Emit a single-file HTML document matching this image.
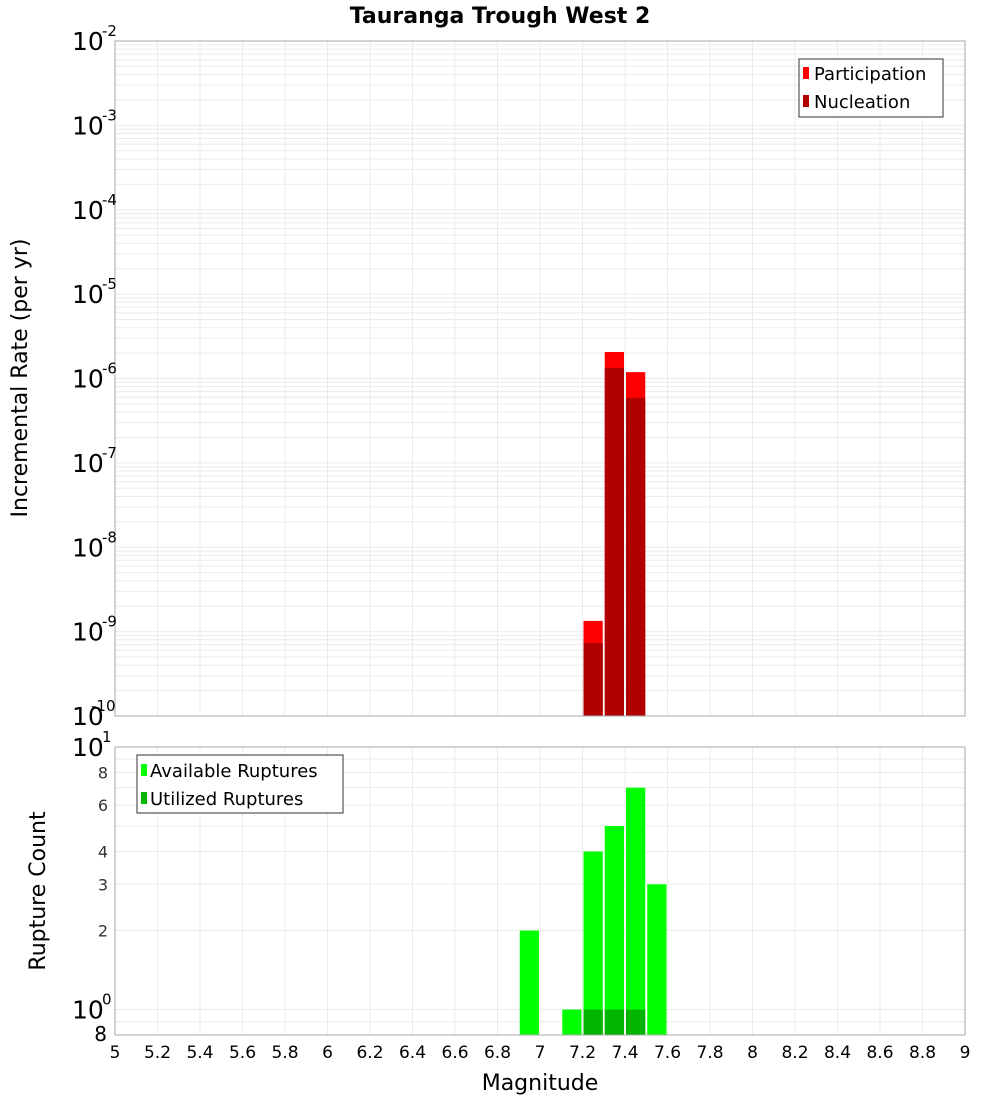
<!DOCTYPE html>
<html><head><meta charset="utf-8"><style>
body{margin:0;background:#fff;}
svg text{font-family:"DejaVu Sans","Liberation Sans",sans-serif;}
</style></head><body>
<svg id="c" width="1000" height="1100" xmlns="http://www.w3.org/2000/svg">
<text x="500" y="23" text-anchor="middle" font-size="22" font-weight="bold">Tauranga Trough West 2</text>
<g id="topg"></g><g id="botg"></g>
</svg>
<script>
const mags = [7.25, 7.35, 7.45];
const participation = [1.34e-9, 2.06e-6, 1.19e-6];
const nucleation = [7.3e-10, 1.33e-6, 5.9e-7];
const countMags = [6.95, 7.15, 7.25, 7.35, 7.45, 7.55];
const available = [2, 1, 4, 5, 7, 3];
const utilMags = [7.25, 7.35, 7.45];
const utilized = [1, 1, 1];
const xTicks = [5,5.2,5.4,5.6,5.8,6,6.2,6.4,6.6,6.8,7,7.2,7.4,7.6,7.8,8,8.2,8.4,8.6,8.8,9];
const topDecades = [-10,-9,-8,-7,-6,-5,-4,-3,-2];
const botTickVals = [0.8,1,2,3,4,6,8,10];

const NS="http://www.w3.org/2000/svg";
const X0=115,X1=965;
const x=m=>X0+(m-5)/4*(X1-X0);
const T0=41,T1=716;
const yTop=v=>T0+(-2-Math.log10(v))/8*(T1-T0);
const B0=747,B1=1035;
const yBot=v=>B0+(1-Math.log10(v))/(1-Math.log10(0.8))*(B1-B0);
function el(p,tag,a,txt){const e=document.createElementNS(NS,tag);for(const k in a)e.setAttribute(k,a[k]);if(txt!==undefined)e.textContent=txt;p.appendChild(e);return e;}
const topG=document.getElementById('topg'),botG=document.getElementById('botg');

for(const d of topDecades){for(let k=1;k<10;k++){const v=k*Math.pow(10,d);if(v>1e-2+1e-12)break;const yy=yTop(v);
const g=el(topG,'line',{x1:X0,x2:X1,y1:yy,y2:yy,stroke:'#ebebeb','stroke-width':1});

}}
for(const t of xTicks){for(const [p,a,b] of [[topG,T0,T1],[botG,B0,B1]]){const g=el(p,'line',{x1:x(t),x2:x(t),y1:a,y2:b,stroke:'#ebebeb','stroke-width':1});

}}
const bw=(x(5.1)-x(5))-2;
mags.forEach((m,i)=>{
const r=el(topG,'rect',{x:x(m)-bw/2,y:yTop(participation[i]),width:bw,height:T1-yTop(participation[i]),fill:'#ff0000'});


const n=el(topG,'rect',{x:x(m)-bw/2,y:yTop(nucleation[i]),width:bw,height:T1-yTop(nucleation[i]),fill:'#b00000'});

});
const tf=el(topG,'rect',{x:X0,y:T0,width:X1-X0,height:T1-T0,fill:'none',stroke:'#aaa'});


for(const d of topDecades){const yy=yTop(Math.pow(10,d));
const t=el(topG,'text',{x:72,y:yy+9,'font-size':25},'10');


const s=el(topG,'text',{x:(d<=-10?91:102),y:yy-5,'font-size':15},String(d));

}
const yt=el(topG,'text',{x:0,y:0,'font-size':22,'text-anchor':'middle',transform:'translate(27,378) rotate(-90)'},'Incremental Rate (per yr)');


const lg=el(topG,'g',{});


el(lg,'rect',{x:799,y:59,width:144,height:58,fill:'#fff',stroke:'#333'});
el(lg,'rect',{x:803,y:67,width:6,height:12,fill:'#ff0000'});
el(lg,'text',{x:814,y:80,'font-size':18},'Participation');
el(lg,'rect',{x:803,y:95,width:6,height:12,fill:'#b00000'});
el(lg,'text',{x:814,y:108,'font-size':18},'Nucleation');

for(const v of [0.8,0.9,1,2,3,4,5,6,7,8,9,10]){const yy=yBot(v);
const g=el(botG,'line',{x1:X0,x2:X1,y1:yy,y2:yy,stroke:'#ebebeb','stroke-width':1});

}
countMags.forEach((m,i)=>{
const r=el(botG,'rect',{x:x(m)-bw/2,y:yBot(available[i]),width:bw,height:B1-yBot(available[i]),fill:'#00ff00'});

});
utilMags.forEach((m,i)=>{
const r=el(botG,'rect',{x:x(m)-bw/2,y:yBot(utilized[i]),width:bw,height:B1-yBot(utilized[i]),fill:'#00b400'});

});
const bf=el(botG,'rect',{x:X0,y:B0,width:X1-X0,height:B1-B0,fill:'none',stroke:'#aaa'});


for(const v of botTickVals){const yy=yBot(v);
if(v===1||v===10){const t=el(botG,'text',{x:72,y:yy+9,'font-size':25},'10');


const s=el(botG,'text',{x:102,y:yy-5,'font-size':15},v===1?'0':'1');

}
else{const t=el(botG,'text',{x:v===0.8?107:108,y:yy+6,'font-size':v===0.8?20:16,'text-anchor':'end',fill:v===0.8?'#000':'#333'},v===0.8?'8':String(v));

}}
const yb=el(botG,'text',{x:0,y:0,'font-size':22,'text-anchor':'middle',transform:'translate(45,891) rotate(-90)'},'Rupture Count');


const lb=el(botG,'g',{});


el(lb,'rect',{x:137,y:755,width:206,height:58,fill:'#fff',stroke:'#333'});
el(lb,'rect',{x:141,y:764,width:6,height:12,fill:'#00ff00'});
el(lb,'text',{x:150,y:777,'font-size':18},'Available Ruptures');
el(lb,'rect',{x:141,y:792,width:6,height:12,fill:'#00b400'});
el(lb,'text',{x:150,y:805,'font-size':18},'Utilized Ruptures');
for(const t of xTicks){const l=el(botG,'text',{x:x(t),y:1058,'font-size':17,'text-anchor':'middle'},String(t));

}
const xt=el(botG,'text',{x:540,y:1090,'font-size':22,'text-anchor':'middle'},'Magnitude');


</script>
</body></html>
